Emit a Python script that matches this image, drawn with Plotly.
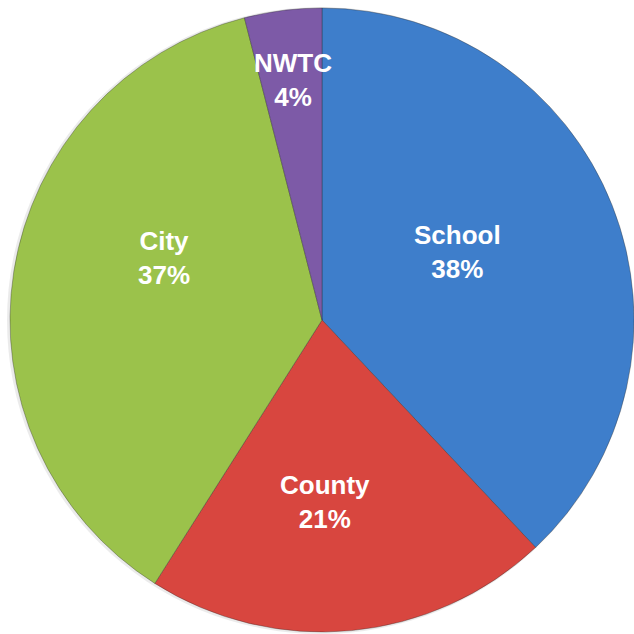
import math
import plotly.graph_objects as go

# Budget share by funding body
labels = ["School", "County", "City", "NWTC"]
values = [38, 21, 37, 4]

colors = ["#3E7ECB", "#D8463F", "#9BC24B", "#7D5AA7"]

W = H = 634
# pie geometry in pixels
cx, cy, R = 322, 320, 312
# label placement per slice: radial fraction and angular nudge (degrees)
label_r = [0.487, 0.583, 0.545, 0.775]
label_dtheta = [-5, 4.5, 12.4, 0.3]


def clamp(v):
    return min(1.0, max(0.0, v))


dom_x = [clamp((cx - R) / W), clamp((cx + R) / W)]
dom_y = [clamp(1 - (cy + R) / H), clamp(1 - (cy - R) / H)]

fig = go.Figure()

# soft drop shadow under the pie
fig.add_trace(go.Pie(
    values=[1], marker=dict(colors=["rgba(0,0,0,0.08)"], line=dict(width=0)),
    textinfo="none", hoverinfo="skip", showlegend=False, sort=False,
    domain=dict(x=[clamp((cx - R - 3) / W), 1.0],
                y=[clamp(1 - (cy + R + 3) / H), clamp(1 - (cy - R - 1) / H)]),
))

fig.add_trace(go.Pie(
    labels=labels, values=values, sort=False, direction="clockwise",
    rotation=0, textinfo="none", showlegend=False,
    marker=dict(colors=colors, line=dict(color="rgba(40,40,40,0.35)", width=1)),
    domain=dict(x=dom_x, y=dom_y),
))

total = sum(values)
cum = 0
annotations = []
for i, (lab, v) in enumerate(zip(labels, values)):
    mid = (cum + v / 2) / total * 360 + label_dtheta[i]
    cum += v
    th = math.radians(mid)
    d = label_r[i] * R
    px = cx + d * math.sin(th)
    py = cy - d * math.cos(th)
    pct = round(v / total * 100)
    annotations.append(dict(
        x=px / W, y=1 - py / H, xref="paper", yref="paper",
        text=f"<b>{lab}<br>{pct}%</b>", showarrow=False,
        font=dict(family="Liberation Sans, Arial", size=26, color="white"),
        xanchor="center", yanchor="middle", align="center",
    ))

fig.update_layout(
    width=W, height=H, margin=dict(l=0, r=0, t=0, b=0),
    paper_bgcolor="white", plot_bgcolor="white",
    annotations=annotations,
)

fig.write_html("out.html")
